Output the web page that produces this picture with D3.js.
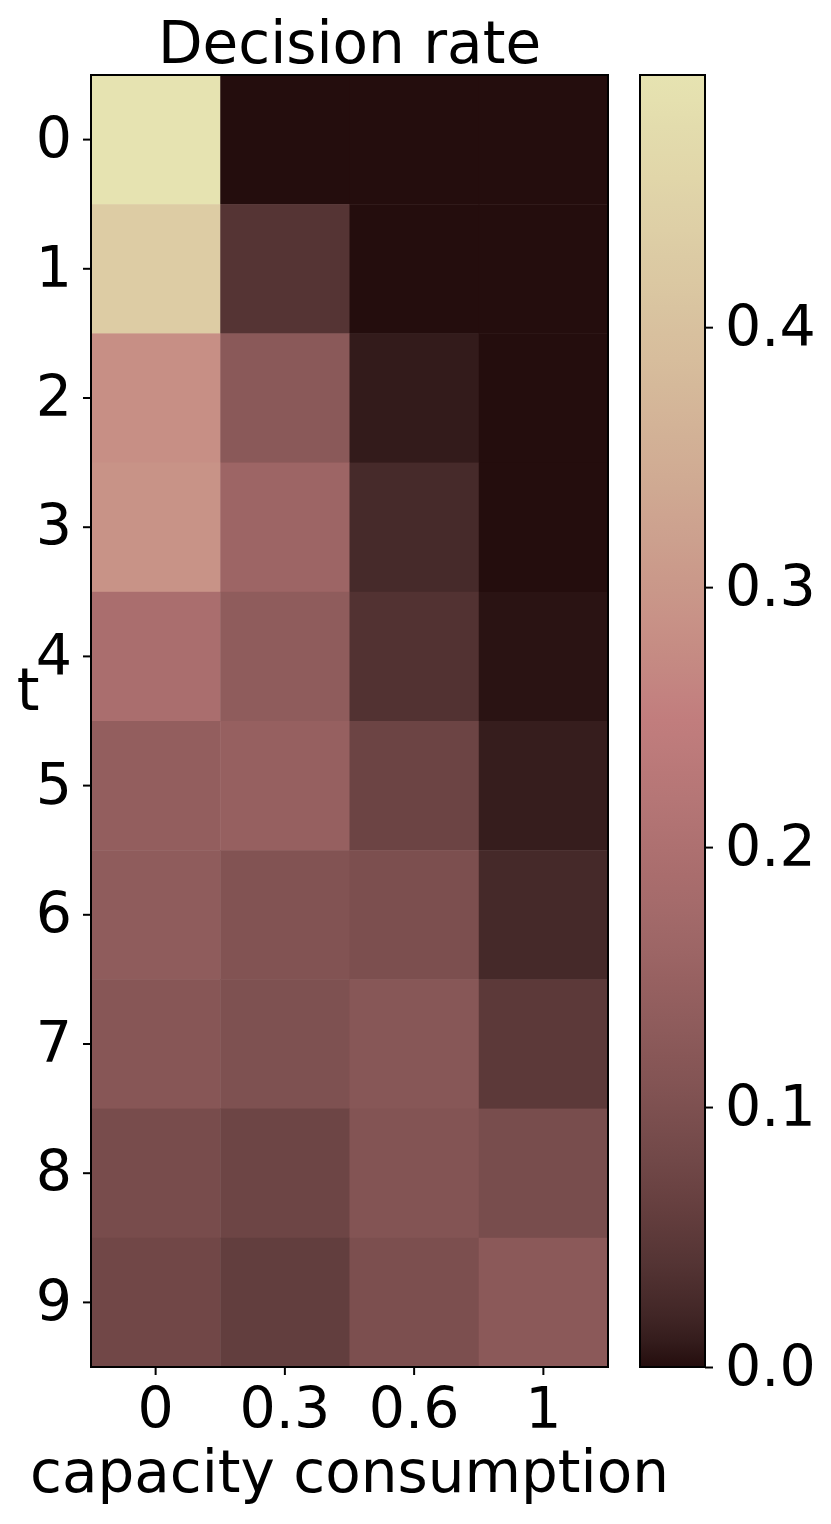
<!DOCTYPE html>
<html>
<head>
<meta charset="utf-8">
<script src="https://cdn.jsdelivr.net/npm/d3@7"></script>
<style>
body { margin: 0; background: #fff; }
text { font-family: 'DejaVu Sans', sans-serif; fill: #000; }
</style>
</head>
<body>
<svg id="chart" width="831" height="1524"></svg>
<script>
// rows = t, columns = capacity consumption
var tLabels = ['0', '1', '2', '3', '4', '5', '6', '7', '8', '9']
var capLabels = ['0', '0.3', '0.6', '1']
var rate = [
    [0.497, 0.000, 0.000, 0.000],
    [0.430, 0.041, 0.000, 0.000],
    [0.282, 0.123, 0.009, 0.000],
    [0.290, 0.161, 0.025, 0.000],
    [0.190, 0.132, 0.037, 0.003],
    [0.140, 0.146, 0.071, 0.011],
    [0.132, 0.108, 0.097, 0.024],
    [0.117, 0.101, 0.118, 0.050],
    [0.090, 0.073, 0.110, 0.091],
    [0.079, 0.058, 0.097, 0.124]
]
var cbTicks = [0, 0.1, 0.2, 0.3, 0.4]

var vmax = d3.max(rate, function (r) { return d3.max(r) })
var vmin = 0

// matplotlib 'pink' = sqrt((2*gray + hot)/3), only the lower part of it is used
function pink(x) {
    var hr = Math.min(1, 0.0416 + x * (1 - 0.0416) / 0.365079)
    var hg = Math.max(0, Math.min(1, (x - 0.365079) / (0.746032 - 0.365079)))
    var hb = Math.max(0, (x - 0.746032) / (1 - 0.746032))
    var f = function (h) { return Math.round(255 * Math.sqrt((2 * x + h) / 3)) }
    return d3.rgb(f(hr), f(hg), f(hb)).toString()
}
var color = d3.scaleSequential(function (t) { return pink(0.004 + 0.716 * t) }).domain([vmin, vmax])

var svg = d3.select('#chart')
var axL = 91, axR = 608, axT = 75, axB = 1367
var cbL = 640, cbR = 705

var x = d3.scaleBand().domain(capLabels).range([axL, axR])
var y = d3.scaleBand().domain(tLabels).range([axT, axB])
var cbY = d3.scaleLinear().domain([vmin, vmax]).range([axB, axT])

var cells = []
rate.forEach(function (row, i) {
    row.forEach(function (v, j) {
        cells.push({ t: tLabels[i], c: capLabels[j], v: v })
    })
})

svg.append('g').selectAll('rect').data(cells).enter()
    .append('rect')
    .attr('x', function (d) { return x(d.c) })
    .attr('y', function (d) { return y(d.t) })
    .attr('width', x.bandwidth() + 0.5)
    .attr('height', y.bandwidth() + 0.5)
    .attr('fill', function (d) { return color(d.v) })

svg.append('rect')
    .attr('x', axL).attr('y', axT)
    .attr('width', axR - axL).attr('height', axB - axT)
    .attr('fill', 'none').attr('stroke', '#000').attr('stroke-width', 2)

// colorbar
var grad = svg.append('defs').append('linearGradient')
    .attr('id', 'cbgrad')
    .attr('x1', 0).attr('y1', 1).attr('x2', 0).attr('y2', 0)
grad.selectAll('stop').data(d3.range(0, 1.0001, 0.02)).enter()
    .append('stop')
    .attr('offset', function (d) { return d })
    .attr('stop-color', function (d) { return color(vmin + d * (vmax - vmin)) })

svg.append('rect')
    .attr('x', cbL).attr('y', axT)
    .attr('width', cbR - cbL).attr('height', axB - axT)
    .attr('fill', 'url(#cbgrad)')
    .attr('stroke', '#000').attr('stroke-width', 2)

// axes
function styleAxis(g) {
    g.select('.domain').remove()
    g.selectAll('line').attr('stroke', '#000').attr('stroke-width', 2)
    g.selectAll('text').attr('font-size', 57).attr('font-family', "'DejaVu Sans', sans-serif")
}

svg.append('g')
    .attr('transform', 'translate(' + axL + ',0)')
    .call(d3.axisLeft(y).tickSize(8).tickPadding(11))
    .call(styleAxis)

svg.append('g')
    .attr('transform', 'translate(0,' + axB + ')')
    .call(d3.axisBottom(x).tickSize(8).tickPadding(13))
    .call(styleAxis)

svg.append('g')
    .attr('transform', 'translate(' + cbR + ',0)')
    .call(d3.axisRight(cbY).tickValues(cbTicks).tickFormat(d3.format('.1f')).tickSize(8).tickPadding(12))
    .call(styleAxis)

// labels
svg.append('text')
    .attr('x', (axL + axR) / 2).attr('y', 63)
    .attr('text-anchor', 'middle').attr('font-size', 58)
    .text('Decision rate')

svg.append('text')
    .attr('x', (axL + axR) / 2).attr('y', 1492)
    .attr('text-anchor', 'middle').attr('font-size', 58)
    .text('capacity consumption')

svg.append('text')
    .attr('x', 28).attr('y', 710)
    .attr('text-anchor', 'middle').attr('font-size', 58)
    .text('t')
</script>
</body>
</html>
